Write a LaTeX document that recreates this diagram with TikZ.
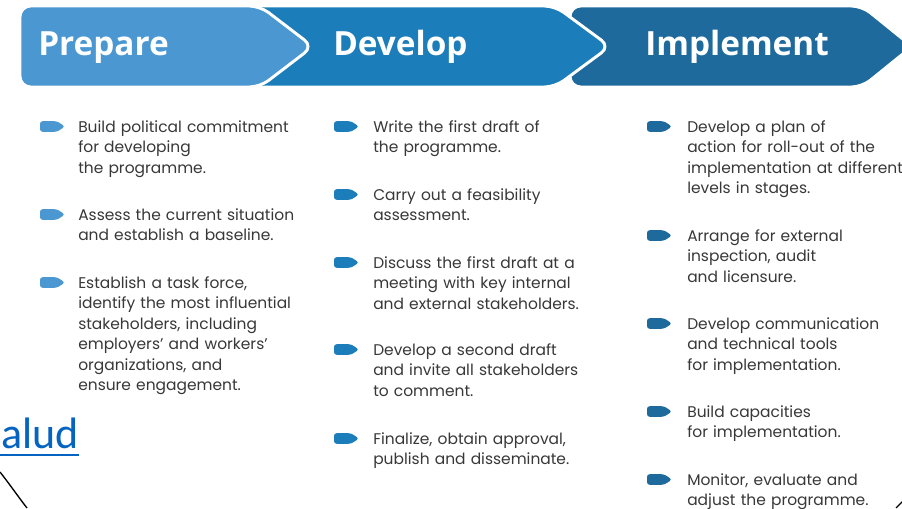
\documentclass[tikz,border=0pt]{standalone}
\usepackage{fontspec}
\setmainfont{Poppins}
\newfontfamily\headfont{Open Sans}
\newfontfamily\linkfont{Carlito}
\definecolor{cprep}{HTML}{4A97D2}
\definecolor{cdev}{HTML}{1B7DB9}
\definecolor{cimp}{HTML}{1E6A9D}
\definecolor{bodytxt}{HTML}{383838}
\definecolor{linkblue}{HTML}{0563C1}
\tikzset{
  band/.style={draw=white, line width=2.2pt, rounded corners=8pt},
  headtxt/.style={font=\headfont\bfseries\fontsize{25}{29}\selectfont, text=white, inner sep=0pt, anchor=base west},
  itemtxt/.style={font=\fontsize{11.6}{15.4}\selectfont, text=bodytxt, inner sep=0pt, anchor=base west, text width=180pt, align=left},
  pics/bul/.style={code={
    \fill[#1, rounded corners=2pt] (0,-5.3) -- (17,-5.3) -- (25,0) -- (17,5.3) -- (0,5.3) -- cycle;
  }}
}
\begin{document}
\begin{tikzpicture}[x=0.75pt, y=-0.75pt]
\useasboundingbox (0,0) rectangle (902,508);
\clip (0,0) rectangle (902,508);
\fill[white] (0,0) rectangle (902,508);
% bands
\draw[band, fill=cimp] (570,6) -- (862,6) -- (912,46.5) -- (862,87) -- (570,87) -- cycle;
\draw[band, fill=cdev] (250,6) -- (555,6) -- (610,46.5) -- (555,87) -- (250,87) -- cycle;
\draw[band, fill=cprep] (20,6) -- (260,6) -- (313,46.5) -- (260,87) -- (20,87) -- cycle;
\node[headtxt] (hprep) at (38,55) {Prepare};
\node[headtxt] (hdev) at (333,55) {Develop};
\node[headtxt] (himp) at (645,55) {Implement};
% column 1
\pic at (40,126.5) {bul=cprep};
\node[itemtxt] (p1) at (78,132) {Build political commitment\\for developing\\the programme.};
\pic at (40,214.5) {bul=cprep};
\node[itemtxt] (p2) at (78,220) {Assess the current situation\\and establish a baseline.};
\pic at (40,282.5) {bul=cprep};
\node[itemtxt] (p3) at (78,288) {Establish a task force,\\identify the most influential\\stakeholders, including\\employers' and workers'\\organizations, and\\ensure engagement.};
% column 2
\pic at (334,126.5) {bul=cdev};
\node[itemtxt] (d1) at (373,132) {Write the first draft of\\the programme.};
\pic at (334,194.5) {bul=cdev};
\node[itemtxt] (d2) at (373,200) {Carry out a feasibility\\assessment.};
\pic at (334,262.5) {bul=cdev};
\node[itemtxt] (d3) at (373,268) {Discuss the first draft at a\\meeting with key internal\\and external stakeholders.};
\pic at (334,349.5) {bul=cdev};
\node[itemtxt] (d4) at (373,355) {Develop a second draft\\and invite all stakeholders\\to comment.};
\pic at (334,438.5) {bul=cdev};
\node[itemtxt] (d5) at (373,444) {Finalize, obtain approval,\\publish and disseminate.};
% column 3
\pic at (647,126.5) {bul=cimp};
\node[itemtxt] (i1) at (687,132) {Develop a plan of\\action for roll-out of the\\implementation at different\\levels in stages.};
\pic at (647,235.5) {bul=cimp};
\node[itemtxt] (i2) at (687,241) {Arrange for external\\inspection, audit\\and licensure.};
\pic at (647,323.5) {bul=cimp};
\node[itemtxt] (i3) at (687,329) {Develop communication\\and technical tools\\for implementation.};
\pic at (647,411.5) {bul=cimp};
\node[itemtxt] (i4) at (687,417) {Build capacities\\for implementation.};
\pic at (647,479.5) {bul=cimp};
\node[itemtxt] (i5) at (687,485) {Monitor, evaluate and\\adjust the programme.};
% link fragment
\node[font=\linkfont\fontsize{33}{36}\selectfont, text=linkblue, inner sep=0pt, anchor=base east] (link) at (79,448) {alud};
\draw[linkblue, line width=1.5pt] (0,455) -- (79,455);
% arcs
\draw[black, line width=1pt] (0,472) .. controls (8,482) and (17,495) .. (27,508);
\draw[black, line width=1pt] (896,508) -- (903,501);
\end{tikzpicture}
\end{document}
